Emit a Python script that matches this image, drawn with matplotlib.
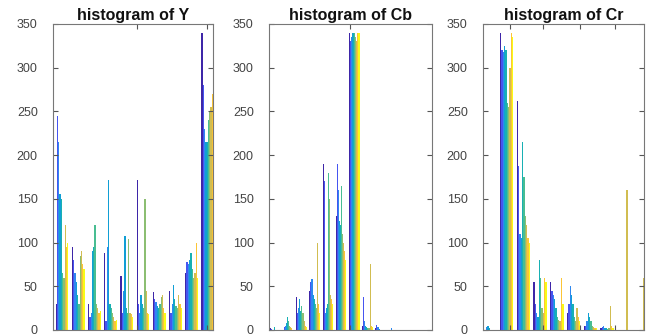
import matplotlib
matplotlib.use('Agg')
import matplotlib.pyplot as plt
from matplotlib.colors import LinearSegmentedColormap
import numpy as np

plt.rcParams['font.family'] = ['Liberation Sans', 'DejaVu Sans']

TITLES = ['histogram of Y', 'histogram of Cb', 'histogram of Cr']
BINS = np.arange(1, 11)

# counts per bin (rows) for each column series (dark blue -> yellow)
HIST_Y = [
    [30, 245, 215, 155, 150, 65, 60, 120, 95, 100],
    [95, 80, 65, 55, 40, 30, 85, 90, 75, 70],
    [30, 15, 20, 90, 95, 120, 30, 25, 20, 22],
    [88, 10, 95, 172, 30, 25, 20, 15, 10, 12],
    [62, 20, 45, 108, 25, 20, 104, 20, 18, 15],
    [172, 30, 20, 40, 30, 25, 150, 45, 20, 18],
    [43, 35, 32, 28, 25, 30, 38, 40, 25, 20],
    [45, 20, 30, 52, 35, 28, 25, 40, 30, 25],
    [65, 78, 75, 80, 88, 70, 60, 65, 100, 60],
    [340, 280, 230, 215, 215, 240, 250, 255, 270, 340],
]
HIST_CB = [
    [2, 1, 0, 0, 3, 0, 0, 0, 0, 0],
    [0, 3, 5, 8, 15, 10, 5, 3, 2, 0],
    [38, 20, 25, 35, 22, 28, 20, 10, 5, 3],
    [45, 55, 58, 40, 35, 30, 25, 100, 30, 20],
    [190, 170, 20, 25, 30, 180, 150, 40, 35, 30],
    [130, 190, 160, 125, 120, 165, 110, 100, 90, 80],
    [340, 330, 335, 340, 340, 340, 335, 330, 340, 340],
    [5, 38, 10, 5, 3, 2, 2, 75, 5, 3],
    [2, 6, 3, 1, 0, 0, 0, 0, 0, 0],
    [0, 0, 2, 0, 0, 0, 0, 0, 0, 0],
]
HIST_CR = [
    [0, 0, 3, 5, 2, 0, 0, 0, 0, 0],
    [340, 320, 318, 325, 320, 260, 255, 300, 340, 335],
    [262, 188, 110, 105, 215, 175, 130, 120, 105, 100],
    [55, 30, 20, 15, 80, 60, 25, 20, 60, 55],
    [55, 45, 40, 35, 25, 15, 12, 10, 60, 30],
    [20, 30, 50, 40, 30, 15, 10, 25, 15, 10],
    [5, 5, 10, 20, 15, 10, 5, 3, 2, 2],
    [2, 3, 5, 2, 2, 1, 2, 28, 5, 2],
    [0, 0, 0, 0, 0, 0, 0, 160, 0, 0],
    [0, 0, 0, 0, 0, 0, 0, 60, 10, 5],
]
YTICKS = [0, 50, 100, 150, 200, 250, 300, 350]

# rough parula
parula = LinearSegmentedColormap.from_list('parula', [
    (0.2422, 0.1504, 0.6603), (0.2802, 0.3603, 0.9783),
    (0.1540, 0.5902, 0.9218), (0.0232, 0.6407, 0.7925),
    (0.1540, 0.7334, 0.6288), (0.4420, 0.7481, 0.5011),
    (0.7660, 0.7380, 0.3440), (0.9900, 0.7450, 0.2300),
    (0.9769, 0.9839, 0.0805)])

W, H = 653, 336
fig = plt.figure(figsize=(W / 100, H / 100), dpi=100)

# axes boxes in pixels: left, right ; xlim in bin units
boxes = [(53, 213, (0.444, 10.32)), (269, 432, (0.545, 12.89)), (483, 644, (0.58, 10.22))]
xt = [[5.63, 9.95], [6.68], [2.2, 4.17, 6.39, 8.48]]
top, bottom = 24, 330

for title, data, (l, r, xl), ticks in zip(TITLES, [HIST_Y, HIST_CB, HIST_CR], boxes, xt):
    ax = fig.add_axes([l / W, (H - bottom) / H, (r - l) / W, (bottom - top) / H])
    data = np.array(data)
    n = data.shape[1]
    w = 0.8 / n
    for k in range(n):
        ax.bar(BINS - 0.4 + w * (k + 0.5), data[:, k], width=w,
               color=parula(k / (n - 1)), linewidth=0)
    ax.set_xlim(*xl)
    ax.set_ylim(0, 350)
    ax.set_yticks(YTICKS)
    ax.set_xticks(ticks)
    ax.set_xticklabels([])
    ax.tick_params(direction='in', top=True, right=True, length=3.5,
                   color='#555555', labelcolor='#444444', labelsize=9, pad=11)
    for s in ax.spines.values():
        s.set_color('#777777')
        s.set_linewidth(0.8)
    ax.set_title(title, fontsize=11.5, fontweight='bold', pad=3, color='#111111')

fig.savefig('out.png', dpi=100)
